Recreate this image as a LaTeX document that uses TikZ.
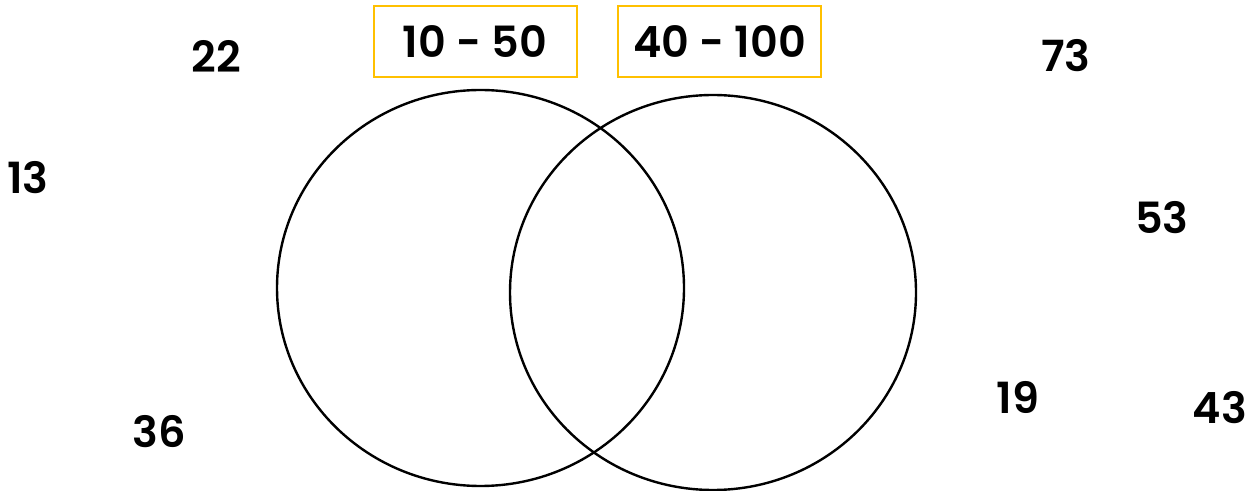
\documentclass[tikz,border=0pt]{standalone}
\usepackage{fontspec}
\setmainfont{Poppins}[BoldFont={Poppins SemiBold}]
\usepackage{tikz}

\definecolor{rangeyellow}{HTML}{FFC000}

\begin{document}
\begin{tikzpicture}[x=0.5pt, y=-0.5pt,
	num/.style={inner sep=0pt, font=\fontsize{21.5}{21.5}\selectfont\bfseries},
	rangebox/.style={draw=rangeyellow, line width=1pt, minimum width=101.5pt, minimum height=35.5pt, inner sep=0pt, font=\fontsize{21.5}{21.5}\selectfont\bfseries}]
			\useasboundingbox (0,0) rectangle (1257,491);
			\draw[line width=1.2pt] (480.5,288) ellipse (203.5 and 198);
			\draw[line width=1.2pt] (713,292.5) ellipse (203 and 197.5);
			\node[rangebox] (setA) at (475,42) {10 - 50};
			\node[rangebox] (setB) at (719.5,42) {40 - 100};
			\node[num] (n22) at (216,56) {22};
			\node[num] (n13) at (28,178) {13};
			\node[num] (n36) at (159,432) {36};
			\node[num] (n73) at (1066,56) {73};
			\node[num] (n53) at (1162,218) {53};
			\node[num] (n19) at (1018,397) {19};
			\node[num] (n43) at (1220,408) {43};
			\end{tikzpicture}
\end{document}
